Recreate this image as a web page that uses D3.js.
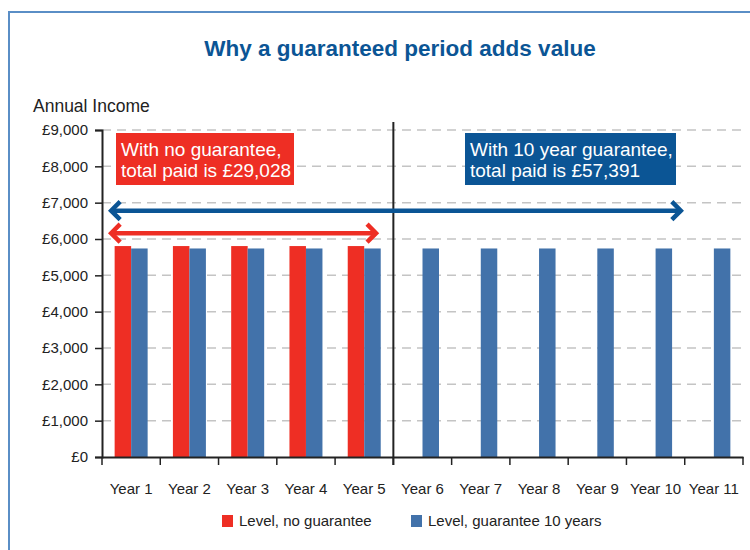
<!DOCTYPE html>
<html><head><meta charset="utf-8">
<script src="https://cdn.jsdelivr.net/npm/d3@7"></script>
<style>body{margin:0;background:#fff}svg{display:block}text{font-family:"Liberation Sans",Arial,sans-serif}</style>
</head><body><svg id="c" width="750" height="550"></svg>
<script>
const categories = ["Year 1","Year 2","Year 3","Year 4","Year 5","Year 6","Year 7","Year 8","Year 9","Year 10","Year 11"];
const seriesNames = ["Level, no guarantee","Level, guarantee 10 years"];
const noGuarantee = [5805.6,5805.6,5805.6,5805.6,5805.6,null,null,null,null,null,null];
const guarantee10 = [5739.1,5739.1,5739.1,5739.1,5739.1,5739.1,5739.1,5739.1,5739.1,5739.1,5739.1];
const yTicks = [0,1000,2000,3000,4000,5000,6000,7000,8000,9000];
const title = "Why a guaranteed period adds value";
const yTitle = "Annual Income";
const redNote = ["With no guarantee,","total paid is £29,028"];
const blueNote = ["With 10 year guarantee,","total paid is £57,391"];
const redArrow = {from:0.14, to:4.72, value:6160};
const blueArrow = {from:0.14, to:9.95, value:6780};

const RED="#ee2e24", BLUE="#4272aa", DARKBLUE="#0b5595";
const svg = d3.select("#c");

// frame
svg.append("path").attr("d","M9,550V12H750").attr("fill","none").attr("stroke","#5a8ec6").attr("stroke-width",2);

svg.append("text").attr("x",400).attr("y",56).attr("text-anchor","middle")
  .attr("font-size",22.5).attr("font-weight","bold").attr("fill",DARKBLUE).text(title);
svg.append("text").attr("x",33).attr("y",112).attr("font-size",17.5).attr("fill","#222").text(yTitle);

const x = d3.scaleBand().domain(categories).range([102,743]).paddingInner(0).paddingOuter(0);
const xs = d3.scaleBand().domain(seriesNames).range([0,x.bandwidth()]).paddingInner(0).paddingOuter(0.766);
const y = d3.scaleLinear().domain([0,9000]).range([457,130]);
const xc = v => x.range()[0] + v*x.step();

// grid
svg.append("g").selectAll("line").data(yTicks.filter(d=>d>0)).join("line")
  .attr("x1",102).attr("x2",743).attr("y1",d=>y(d)).attr("y2",d=>y(d))
  .attr("stroke","#c4c4c4").attr("stroke-width",1.5).attr("stroke-dasharray","9,6");

// bars
const g = svg.append("g");
categories.forEach((c,i)=>{
  [noGuarantee[i],guarantee10[i]].forEach((v,j)=>{
    if(v==null) return;
    g.append("rect").attr("x",x(c)+xs(seriesNames[j])).attr("width",xs.bandwidth())
      .attr("y",y(v)).attr("height",y(0)-y(v)).attr("fill",j?BLUE:RED);
  });
});

// y axis
const ya = d3.axisLeft(y).tickValues(yTicks).tickSize(7).tickPadding(7).tickFormat(d=>"£"+d3.format(",")(d));
const yg = svg.append("g").attr("transform","translate(102,0)").call(ya);
yg.select(".domain").attr("stroke","#222").attr("stroke-width",2);
yg.selectAll(".tick line").attr("stroke","#222").attr("stroke-width",1.5);
yg.selectAll("text").attr("font-size",15).attr("fill","#222").style("font-family",'"Liberation Sans",Arial,sans-serif');

// x axis
const xa = d3.axisBottom(x).tickSize(0).tickPadding(26);
const xg = svg.append("g").attr("transform","translate(0,457)").call(xa);
xg.select(".domain").attr("stroke","#222").attr("stroke-width",2);
xg.selectAll("text").attr("font-size",15).attr("fill","#222").style("font-family",'"Liberation Sans",Arial,sans-serif');
svg.append("g").selectAll("line").data(d3.range(categories.length+1)).join("line")
  .attr("x1",d=>xc(d)).attr("x2",d=>xc(d)).attr("y1",457).attr("y2",465).attr("stroke","#222").attr("stroke-width",1.5);

// divider
svg.append("line").attr("x1",xc(5)).attr("x2",xc(5)).attr("y1",122).attr("y2",465).attr("stroke","#222").attr("stroke-width",2);

// arrows
function arrow(a,color){
  const x1=xc(a.from), x2=xc(a.to), yy=y(a.value);
  svg.append("line").attr("x1",x1+2).attr("x2",x2-2).attr("y1",yy).attr("y2",yy).attr("stroke",color).attr("stroke-width",4.5);
  svg.append("path").attr("d",`M${x1+10},${yy-9}L${x1+1},${yy}L${x1+10},${yy+9}`).attr("fill","none").attr("stroke",color).attr("stroke-width",4.5);
  svg.append("path").attr("d",`M${x2-10},${yy-9}L${x2-1},${yy}L${x2-10},${yy+9}`).attr("fill","none").attr("stroke",color).attr("stroke-width",4.5);
}
function note(lines,bx,by,bw,bh,color){
  svg.append("rect").attr("x",bx).attr("y",by).attr("width",bw).attr("height",bh).attr("fill",color);
  lines.forEach((t,i)=>svg.append("text").attr("x",bx+5).attr("y",by+23+i*21).attr("font-size",19).attr("fill","#fff").text(t));
}
arrow(blueArrow,DARKBLUE);
arrow(redArrow,RED);
note(redNote,116,133,178,52,RED);
note(blueNote,465,133,211,52,DARKBLUE);

// legend
const leg = [{n:seriesNames[0],c:RED,x:222},{n:seriesNames[1],c:BLUE,x:411}];
leg.forEach(l=>{
  svg.append("rect").attr("x",l.x).attr("y",515).attr("width",11).attr("height",12).attr("fill",l.c);
  svg.append("text").attr("x",l.x+17).attr("y",526).attr("font-size",15).attr("fill","#222").text(l.n);
});
</script></body></html>
